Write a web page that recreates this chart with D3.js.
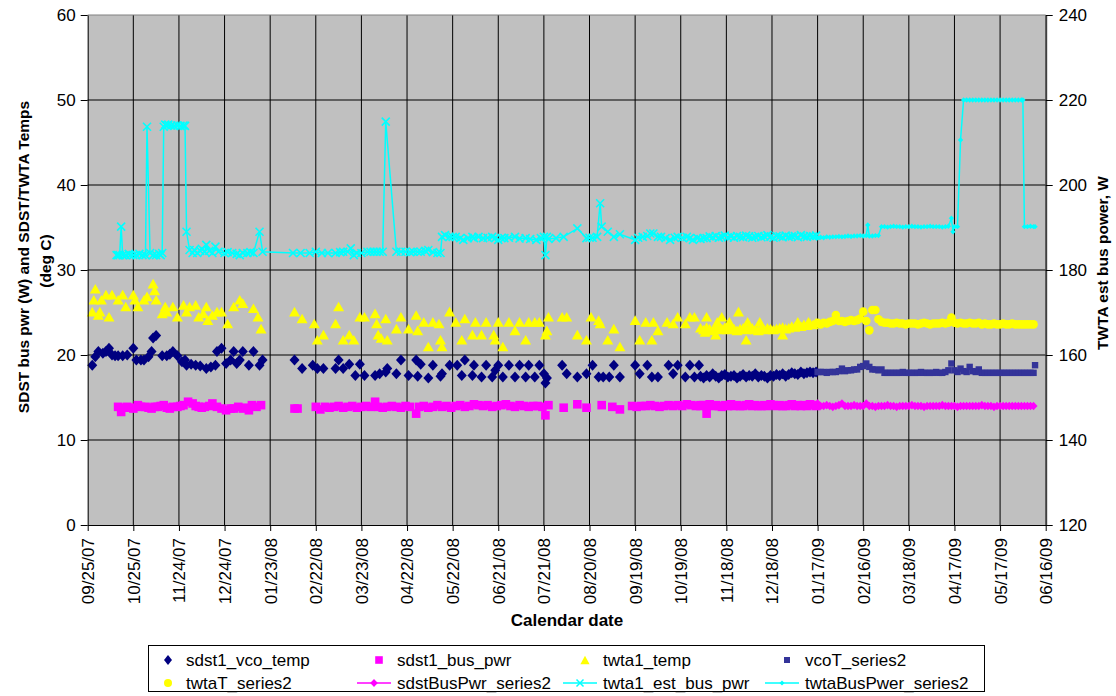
<!DOCTYPE html>
<html><head><meta charset="utf-8">
<script src="https://cdn.jsdelivr.net/npm/d3@7"></script>
<style>
body{margin:0;background:#fff;}
text{font-family:"Liberation Sans",Arial,sans-serif;fill:#000;}
</style>
</head><body>
<svg id="c" width="1116" height="696"></svg>
<script>
// ---------- axis labels ----------
const startDate = "09/25/07";
const xTickLabels = ["09/25/07","10/25/07","11/24/07","12/24/07","01/23/08","02/22/08","03/23/08","04/22/08","05/22/08","06/21/08","07/21/08","08/20/08","09/19/08","10/19/08","11/18/08","12/18/08","01/17/09","02/16/09","03/18/09","04/17/09","05/17/09","06/16/09"];
const yLeftTicks = [0,10,20,30,40,50,60];
const yRightTicks = [120,140,160,180,200,220,240];
const seriesNames = ["sdst1_vco_temp","sdst1_bus_pwr","twta1_temp","vcoT_series2","twtaT_series2","sdstBusPwr_series2","twta1_est_bus_pwr","twtaBusPwer_series2"];

// ---------- data: [day offset from start date, value] ----------
const vcoTempSparse = [[3,18.8],[5,19.8],[7,20.4],[10,20.2],[12,20.4],[14,20.8],[16,20.0],[18,19.9],[20,19.9],[23,19.9],[26,20.0],[30,20.8],[32,19.4],[35,19.4],[37,19.4],[40,19.8],[42,20.4],[43,22.0],[45,22.3],[49,19.9],[52,19.9],[54,20.1],[56,20.4],[59,19.9],[62,19.2],[64,19.4],[65,18.8],[68,18.9],[71,18.8],[74,18.7],[78,18.4],[81,18.6],[84,18.8],[85,20.4],[88,20.8],[91,19.0],[94,19.4],[96,20.4],[98,19.0],[100,19.4],[102,20.4],[106,18.8],[109,20.4],[113,18.8],[115,19.4],
[136,19.4],[141,18.4],[148,18.8],[151,18.4],[155,18.4],[163,18.4],[165,19.4],[168,18.4],[172,18.9],[176,17.6],[179,18.9],[182,17.6],[189,17.6],[192,17.8],[196,18.0],[197,18.4],[203,17.8],[206,19.4],[211,17.6],[216,19.4],[217,17.5],[219,18.9],[224,17.3],[227,18.8],[232,17.5],[233,17.8],[238,18.8],[243,18.8],[246,17.6],[248,19.4],[253,17.6],[254,18.8],[259,17.4],[262,18.8],[266,17.4],[268,18.2],[270,18.8],[273,17.4],[277,18.8],[281,17.4],[284,18.8],[288,17.4],[290,18.8],[294,17.4],[297,18.8],[300,17.8],[301,16.7],[302,17.3],[312,18.8],[315,17.8],[322,17.4],[328,17.8],[332,18.8],[336,17.4],[339,17.4],[343,17.4],[346,18.8],[350,17.4],[360,18.8],[363,17.8],[368,18.8],[371,17.4],[375,17.4],[382,18.8],[385,17.8],[388,18.8],[393,17.4],[396,18.8],[399,17.4],[402,18.8]];

const busPwrSparse = [[20,13.9],[22,13.3],[24,13.8],[26,13.9],[28,13.8],[30,13.7],[33,14.1],[35,13.9],[38,13.9],[40,13.8],[42,13.7],[44,13.9],[46,13.9],[48,14.0],[50,14.1],[52,13.8],[54,13.7],[56,13.9],[59,13.9],[61,14.0],[63,14.1],[66,14.5],[69,14.3],[71,14.0],[73,13.9],[75,13.8],[77,13.9],[80,14.0],[82,14.3],[85,13.9],[88,13.7],[91,13.5],[94,13.7],[96,13.7],[99,13.9],[102,13.7],[104,13.8],[106,13.5],[108,14.1],[111,13.9],[114,14.1],
[136,13.7],[138,13.7],[150,13.9],[153,13.6],[156,13.9],[159,13.8],[162,13.9],[165,14.0],[168,13.8],[171,13.9],[174,14.0],[177,13.8],[180,13.9],[183,14.0],[186,13.9],[189,14.5],[191,13.9],[194,13.8],[197,13.9],[200,14.0],[203,13.9],[206,13.8],[209,14.0],[212,13.9],[216,13.1],[218,13.9],[221,14.0],[224,13.8],[227,13.9],[230,14.1],[233,13.9],[236,14.0],[239,13.8],[242,14.0],[245,14.1],[248,13.9],[251,14.0],[254,14.2],[257,14.1],[260,14.0],[263,14.1],[266,13.9],[269,14.0],[272,14.1],[275,14.2],[278,14.0],[281,13.9],[284,14.1],[287,14.0],[290,13.9],[293,14.0],[296,14.0],[299,13.9],[301,12.9],[303,14.1],[313,13.8],[322,14.2],[328,13.8],[338,14.1],[345,13.9],[350,13.6],[358,14.0],[361,13.9],[364,14.0],[367,14.0],[370,14.1],[373,14.0],[376,13.9],[379,14.0],[382,14.1],[385,14.0],[388,14.1],[391,14.0],[394,14.2],[397,14.1],[400,14.0],[403,14.1],[407,13.1]];

const twtaTempSparse = [[3,25.1],[4,26.5],[5,27.8],[7,24.7],[8,25.1],[9,26.5],[12,27.1],[14,24.5],[16,27.1],[20,26.5],[23,27.1],[25,25.7],[30,27.1],[31,26.5],[33,25.7],[37,26.5],[39,26.9],[43,28.4],[44,27.6],[45,26.5],[49,24.9],[51,25.7],[52,25.1],[56,25.7],[59,24.5],[63,25.9],[65,25.1],[67,25.7],[71,25.9],[73,24.5],[76,24.9],[78,25.7],[79,24.1],[82,24.7],[85,25.1],[88,25.1],[92,23.7],[96,25.7],[100,26.5],[102,26.1],[109,25.5],[112,24.5],[114,23.1],[136,25.1],[141,24.3],[149,23.7],[151,21.8],[155,22.4],[163,23.7],[165,25.7],[168,21.8],[172,22.4],[175,21.8],[179,24.5],[182,24.5],[189,24.9],[190,23.7],[191,22.4],[193,22.0],[196,24.3],[197,21.8],[203,23.1],[206,24.5],[211,23.1],[216,24.7],[217,22.9],[221,23.9],[224,21.0],[227,23.9],[231,23.7],[232,21.8],[233,21.0],[238,25.1],[242,23.9],[246,21.8],[248,24.3],[253,22.4],[255,23.9],[259,22.4],[262,23.9],[267,22.4],[268,21.8],[270,23.9],[273,21.0],[277,23.9],[281,22.9],[284,23.9],[288,21.8],[290,23.9],[294,23.9],[297,23.9],[301,22.4],[302,22.9],[303,24.5],[312,24.5],[315,24.5],[322,22.4],[328,21.8],[331,24.5],[336,24.1],[337,23.7],[342,21.8],[346,23.1],[350,21.0],[360,24.1],[363,21.8],[367,23.9],[371,21.8],[372,23.9],[375,22.9],[381,23.9],[385,23.7],[388,24.5],[393,23.7],[396,24.5],[399,24.5],[406,22.7],[407,24.5],[413,22.4],[414,23.9],[417,24.5],[422,23.9],[428,25.1],[433,21.8],[434,23.9],[442,23.9],[457,22.4],[467,23.9],[474,23.9]];

const estBusPwrSparse = [[19,183.5],[20,183.5],[21,183.5],[22,190.2],[23,183.5],[25,183.5],[27,183.8],[28,183.5],[30,183.5],[32,183.5],[34,183.8],[36,183.5],[38,183.5],[39,213.7],[41,184.0],[43,183.5],[45,183.5],[47,183.8],[48,183.5],[49,184.0],[50,213.7],[51,214.2],[52,214.0],[53,214.2],[55,214.0],[57,213.9],[59,214.0],[61,213.9],[63,214.0],[64,213.9],[65,189.0],[67,184.7],[69,184.0],[70,184.7],[72,184.0],[74,184.5],[75,185.0],[77,184.3],[78,185.9],[80,184.5],[82,184.0],[84,185.5],[86,184.3],[90,184.0],[92,184.2],[95,184.0],[98,183.8],[100,183.5],[102,184.0],[105,184.0],[107,184.2],[109,184.0],[113,189.0],[115,184.3],[135,184.0],[140,184.0],[146,184.0],[150,184.3],[154,184.0],[158,184.0],[163,184.0],[166,184.2],[168,184.3],[171,184.3],[173,185.1],[175,183.5],[177,184.0],[180,184.0],[184,184.3],[186,184.3],[188,184.3],[190,184.3],[192,184.3],[194,184.3],[196,214.9],[203,184.3],[206,184.3],[209,184.3],[212,184.2],[214,184.3],[217,184.3],[219,184.3],[222,184.5],[224,184.7],[227,184.2],[230,184.0],[232,184.0],[233,187.8],[235,188.2],[238,187.8],[240,187.8],[242,187.8],[245,187.5],[247,187.1],[250,187.5],[253,187.8],[254,187.5],[257,187.8],[260,187.5],[263,187.6],[266,187.8],[268,187.5],[270,187.1],[272,187.5],[274,187.5],[277,187.6],[281,187.8],[284,187.4],[288,187.5],[291,187.3],[295,187.1],[298,187.5],[300,187.8],[301,183.5],[302,187.8],[303,187.3],[308,187.5],[313,187.8],[322,189.8],[328,187.5],[330,187.6],[332,187.6],[335,187.8],[337,195.7],[338,190.2],[342,189.0],[346,187.8],[350,188.4],[360,187.1],[362,187.6],[365,187.8],[368,188.0],[370,188.6],[372,188.6],[375,187.8],[377,187.8],[380,187.5],[383,187.1],[386,187.6],[388,187.8],[391,187.6],[394,187.8],[396,187.5],[398,187.1],[401,187.5],[403,187.3],[405,187.5]];

// dense (near-daily) period Nov 2008 - Jan 2009
const denseDays = [403,405,407,409,411,413,415,417,419,421,423,425,427,429,431,433,435,437,439,441,443,445,447,449,451,453,455,457,459,461,463,465,467,469,471,473,475,477,479];
const vcoTempDense = [17.5,17.3,17.6,17.4,17.8,17.5,17.3,17.6,17.7,17.4,17.5,17.6,17.3,17.5,17.7,17.4,17.6,17.5,17.8,17.4,17.6,17.5,17.3,17.6,17.5,17.7,17.6,17.8,17.5,17.7,17.9,17.8,17.7,18.0,17.8,17.9,18.0,17.9,18.0];
const busPwrDense = [14.0,14.1,14.0,14.2,14.0,14.1,14.0,13.9,14.1,14.0,14.2,14.0,14.1,14.0,14.0,14.1,14.2,14.0,14.1,14.0,14.0,14.1,14.0,14.2,14.1,14.0,14.1,14.0,14.0,14.1,14.2,14.0,14.1,14.0,14.1,14.0,14.2,14.1,14.0];
const twtaTempDense = [23.2,23.0,23.3,23.1,22.9,23.2,23.0,23.1,23.3,23.0,23.2,23.1,22.9,23.1,23.2,23.0,23.1,23.2,23.0,22.9,23.1,23.0,23.2,23.1,23.0,23.1,23.2,23.3,23.1,23.2,23.4,23.3,23.5,23.4,23.6,23.5,23.7,23.6,23.8];
const estBusPwrDense = [187.6,187.8,187.5,187.9,187.7,188.0,187.6,187.8,188.1,187.7,187.9,187.6,188.0,187.8,187.7,188.1,187.9,187.6,187.8,188.0,187.7,187.9,188.2,187.8,187.6,188.0,187.9,187.7,188.1,187.8,187.9,188.0,187.7,188.2,187.9,187.8,188.0,187.9,188.1];

// "series2" period Jan - Jun 2009
const series2Days = [480,482,484,486,488,490,492,494,496,498,500,502,504,506,508,510,512,514,516,518,520,522,524,526,528,530,532,534,536,538,540,542,544,546,548,550,552,554,556,558,560,562,564,566,568,570,572,574,576,578,580,582,584,586,588,590,592,594,596,598,600,602,604,606,608,610,612,614,616,618,620,622];
const vcoTSeries2 = [18.0,18.0,18.0,17.9,18.0,18.0,18.0,18.1,18.4,18.1,18.2,18.2,18.3,18.3,18.6,18.7,19.0,18.6,18.3,18.3,18.2,18.3,17.9,17.9,17.9,17.9,17.9,17.9,18.0,17.9,17.9,17.9,17.9,17.9,18.0,17.9,17.9,17.9,17.9,18.0,17.9,17.9,18.0,18.2,19.0,18.2,18.0,18.4,18.1,18.0,18.6,18.1,18.0,18.3,17.9,17.9,17.9,17.9,17.9,17.9,17.9,17.9,17.9,17.9,17.9,17.9,17.9,17.9,17.9,17.9,17.9,17.9];
const vcoTLastPoint = [623,18.8];
const twtaTSeries2 = [23.8,23.6,23.8,23.7,23.9,24.0,24.7,24.0,24.0,23.9,24.0,24.1,24.0,24.1,24.3,25.1,24.0,22.9,25.3,25.3,24.2,23.9,23.8,23.8,23.7,23.7,23.8,23.7,23.7,23.6,23.7,23.7,23.7,23.6,23.7,23.8,23.7,23.6,23.7,23.7,23.7,23.8,23.7,23.8,24.4,23.8,23.7,23.8,23.7,23.7,23.8,23.7,23.7,23.8,23.6,23.7,23.6,23.6,23.7,23.6,23.6,23.7,23.6,23.6,23.7,23.6,23.6,23.6,23.6,23.6,23.6,23.6];
const sdstBusPwrSeries2 = [14.3,14.0,14.0,14.1,14.0,13.9,14.0,14.1,14.3,14.0,14.0,14.0,14.1,14.0,14.0,14.0,14.3,14.0,14.0,13.9,14.0,14.0,14.0,14.1,14.0,14.0,13.9,14.0,14.0,14.0,14.0,14.1,14.0,14.0,14.0,13.9,14.0,14.0,14.0,14.0,14.0,14.1,14.0,14.0,14.0,14.0,13.9,14.0,14.0,14.0,14.0,14.0,14.0,14.0,14.1,14.0,14.0,14.0,13.9,14.0,14.0,14.0,14.0,14.0,14.0,14.0,14.0,14.0,14.0,14.0,14.0,14.0];
const twtaBusPwrSeries2 = [[480,187.6],[482,187.7],[484,187.6],[486,187.8],[488,187.7],[490,187.8],[492,187.8],[494,187.9],[496,187.8],[498,187.9],[500,188.0],[502,187.9],[504,188.0],[506,188.0],[508,188.1],[510,188.0],[512,188.1],[513,190.6],[514,188.0],[516,188.0],[518,188.1],[520,188.1],[522,190.2],[524,190.2],[526,190.1],[528,190.2],[530,190.3],[532,190.2],[534,190.2],[536,190.1],[538,190.2],[540,190.2],[542,190.3],[544,190.2],[546,190.2],[548,190.1],[550,190.2],[552,190.2],[554,190.3],[556,190.2],[558,190.2],[560,190.2],[562,190.1],[564,190.2],[566,190.3],[568,192.2],[569,189.0],[570,190.2],[572,190.2],[574,210.6],[576,220.0],[578,220.0],[580,220.0],[582,220.0],[584,220.0],[586,220.0],[588,220.0],[590,220.0],[592,220.0],[594,220.0],[596,220.0],[598,220.0],[600,220.0],[602,220.0],[604,220.0],[606,220.0],[608,220.0],[610,220.0],[612,220.0],[614,220.0],[615,220.0],[616,190.2],[618,190.2],[620,190.3],[622,190.2],[623,190.2]];

// ---------- chart ----------
const plot = {left: 87.7, right: 1045.7, top: 15, bottom: 525};
const svg = d3.select("#c");
const parse = d3.utcParse("%m/%d/%y");
const t0 = parse(startDate);
const tickDates = xTickLabels.map(parse);
const x = d3.scaleUtc().domain([t0, tickDates[tickDates.length-1]]).range([plot.left, plot.right]);
const yL = d3.scaleLinear().domain([0,60]).range([plot.bottom, plot.top]);
const yR = d3.scaleLinear().domain([120,240]).range([plot.bottom, plot.top]);
const dayDate = d => d3.utcDay.offset(t0, d);

const colors = {vco:"#000080", bus:"#FF00FF", twta:"#FFFF00", vcoT:"#333399", twtaT:"#FFFF00", sdst2:"#FF00FF", est:"#00FFFF", twtaBus2:"#00FFFF"};

// background
svg.append("rect").attr("x",plot.left).attr("y",plot.top).attr("width",plot.right-plot.left).attr("height",plot.bottom-plot.top).attr("fill","#C0C0C0");

// grid
const grid = svg.append("g");
grid.selectAll("line.h").data(yLeftTicks.filter(v=>v>0 && v<60)).join("line")
  .attr("x1",plot.left).attr("x2",plot.right).attr("y1",d=>yL(d)).attr("y2",d=>yL(d)).attr("stroke","#000").attr("stroke-width",1);
grid.selectAll("line.v").data(tickDates.slice(1,-1)).join("line")
  .attr("x1",d=>x(d)).attr("x2",d=>x(d)).attr("y1",plot.top).attr("y2",plot.bottom).attr("stroke","#000").attr("stroke-width",1);
svg.append("line").attr("x1",plot.left).attr("x2",plot.right).attr("y1",plot.top).attr("y2",plot.top).attr("stroke","#808080");

// shapes
const diamond = (w,h)=>`M0,${-h}L${w},0L0,${h}L${-w},0Z`;
const square = s=>`M${-s},${-s}H${s}V${s}H${-s}Z`;
const triangle = (w,h)=>`M0,${-h}L${w},${h}L${-w},${h}Z`;
const xMark = s=>`M${-s},${-s}L${s},${s}M${-s},${s}L${s},${-s}`;
const circle = r=>`M${r},0A${r},${r} 0 1,1 ${-r},0A${r},${r} 0 1,1 ${r},0Z`;

function drawMarkers(data, yScale, path, fill, stroke, sw){
  svg.append("g").selectAll("path").data(data).join("path")
    .attr("transform",d=>`translate(${x(dayDate(d[0]))},${yScale(d[1])})`)
    .attr("d",path).attr("fill",fill||"none").attr("stroke",stroke||"none").attr("stroke-width",sw||0);
}
function drawLine(data, yScale, color, sw){
  svg.append("path").datum(data)
    .attr("d", d3.line().x(d=>x(dayDate(d[0]))).y(d=>yScale(d[1])))
    .attr("fill","none").attr("stroke",color).attr("stroke-width",sw);
}
const zip = (days, vals) => days.map((d,i)=>[d, vals[i]]);

const vcoAll = vcoTempSparse.concat(zip(denseDays, vcoTempDense));
const busAll = busPwrSparse.concat(zip(denseDays, busPwrDense));
const twtaAll = twtaTempSparse.concat(zip(denseDays, twtaTempDense));
const vcoT2 = zip(series2Days, vcoTSeries2).concat([vcoTLastPoint]);
const twtaT2 = zip(series2Days, twtaTSeries2);
const sdst2 = zip(series2Days, sdstBusPwrSeries2);
const estAll = estBusPwrSparse.concat(zip(denseDays, estBusPwrDense).filter(p=>p[0]>405));

const shp = {
  vco: diamond(5,5.5), bus: square(4.3), twta: triangle(5.5,4.8), vcoT: square(3.2),
  twtaT: circle(4.3), sdst2: diamond(4,4.3), est: xMark(4), twtaBus2: diamond(2.7,2.7)
};

drawMarkers(vcoAll, yL, shp.vco, colors.vco);
drawMarkers(busAll, yL, shp.bus, colors.bus);
drawMarkers(twtaAll, yL, shp.twta, colors.twta);
drawMarkers(vcoT2, yL, shp.vcoT, colors.vcoT);
drawMarkers(twtaT2, yL, shp.twtaT, colors.twtaT);
drawLine(sdst2, yL, colors.sdst2, 1.5);
drawMarkers(sdst2, yL, shp.sdst2, colors.sdst2);
drawLine(estAll, yR, colors.est, 1.5);
drawMarkers(estAll, yR, shp.est, "none", colors.est, 1.6);
drawLine(twtaBusPwrSeries2, yR, colors.twtaBus2, 1.5);
drawMarkers(twtaBusPwrSeries2, yR, shp.twtaBus2, colors.twtaBus2);

// axes
const fs = 17;
const axL = svg.append("g").attr("transform",`translate(${plot.left},0)`)
  .call(d3.axisLeft(yL).tickValues(yLeftTicks).tickSize(7).tickSizeOuter(0).tickPadding(5));
const axR = svg.append("g").attr("transform",`translate(${plot.right},0)`)
  .call(d3.axisRight(yR).tickValues(yRightTicks).tickSize(7).tickSizeOuter(0).tickPadding(6));
const axB = svg.append("g").attr("transform",`translate(0,${plot.bottom})`)
  .call(d3.axisBottom(x).tickValues(tickDates).tickFormat(d3.utcFormat("%m/%d/%y")).tickSize(6).tickSizeOuter(0));
[axL,axR,axB].forEach(a=>{
  a.selectAll("text").attr("font-size",fs).attr("font-family","Liberation Sans, Arial, sans-serif").attr("fill","#000");
  a.selectAll("line").attr("stroke","#000");
  a.select(".domain").attr("stroke","#000");
});
axR.select(".domain").attr("stroke","#404040").attr("stroke-width",2);
axB.selectAll("text").attr("transform","rotate(-90)").attr("text-anchor","end")
  .attr("x",-13).attr("y",0).attr("dy","0.35em");

// titles
svg.append("text").attr("transform","translate(567,626)").attr("text-anchor","middle")
  .attr("font-size",17).attr("font-weight","bold").text("Calendar date");
svg.append("text").attr("transform","translate(29,257) rotate(-90)").attr("text-anchor","middle")
  .attr("font-size",15.5).attr("font-weight","bold").text("SDST bus pwr (W) and SDST/TWTA Temps");
svg.append("text").attr("transform","translate(51,261) rotate(-90)").attr("text-anchor","middle")
  .attr("font-size",15.5).attr("font-weight","bold").text("(deg C)");
svg.append("text").attr("transform","translate(1108,263) rotate(-90)").attr("text-anchor","middle")
  .attr("font-size",15.5).attr("font-weight","bold").text("TWTA est bus power, W");

// legend
const lg = svg.append("g");
lg.append("rect").attr("x",148.5).attr("y",645.5).attr("width",836).attr("height",46).attr("fill","#fff").attr("stroke","#000");
const legendItems = [
  {name:seriesNames[0], col:0,row:0, shape:diamond(4,5), fill:colors.vco},
  {name:seriesNames[1], col:1,row:0, shape:square(3.8), fill:colors.bus},
  {name:seriesNames[2], col:2,row:0, shape:triangle(4.6,4.2), fill:colors.twta},
  {name:seriesNames[3], col:3,row:0, shape:square(3), fill:colors.vcoT},
  {name:seriesNames[4], col:0,row:1, shape:circle(4), fill:colors.twtaT},
  {name:seriesNames[5], col:1,row:1, shape:diamond(3.8,4), fill:colors.sdst2, line:true},
  {name:seriesNames[6], col:2,row:1, shape:xMark(3.5), stroke:colors.est, line:true},
  {name:seriesNames[7], col:3,row:1, shape:diamond(2.5,2.5), fill:colors.twtaBus2, line:true}
];
const colText = [186, 397, 603, 805];
const rowY = [660, 683];
legendItems.forEach(it=>{
  const tx = colText[it.col], y = rowY[it.row];
  const color = it.fill || it.stroke;
  if(it.line){
    lg.append("line").attr("x1",tx-40).attr("x2",tx-6).attr("y1",y).attr("y2",y).attr("stroke",color).attr("stroke-width",1.5);
  }
  const mx = it.line ? tx-23 : tx-18;
  lg.append("path").attr("transform",`translate(${mx},${y})`).attr("d",it.shape)
    .attr("fill",it.fill||"none").attr("stroke",it.stroke||"none").attr("stroke-width",it.stroke?1.5:0);
  lg.append("text").attr("x",tx).attr("y",y).attr("dy","0.35em").attr("font-size",17).text(it.name);
});
</script>
</body></html>
